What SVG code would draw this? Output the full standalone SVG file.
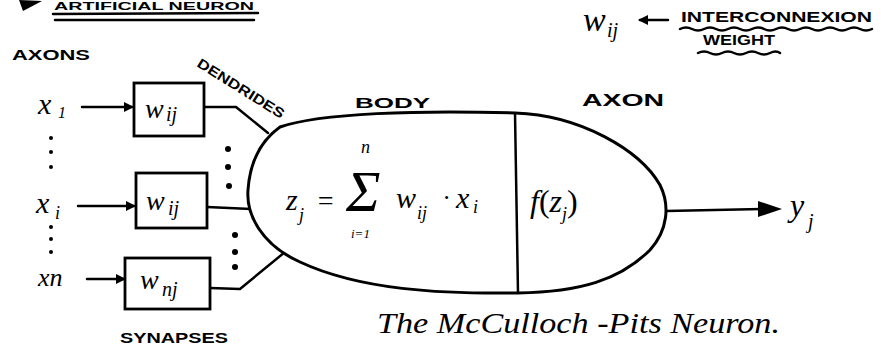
<svg xmlns="http://www.w3.org/2000/svg" width="881" height="349" viewBox="0 0 881 349">
<style>
.lbl{font-family:"Liberation Sans",Arial,sans-serif;font-weight:bold;fill:#000}
.m{font-family:"Liberation Serif","Times New Roman",serif;font-style:italic;fill:#000}
.ln{fill:none;stroke:#000;stroke-width:2.5;stroke-linecap:round;stroke-linejoin:round}
.bx{fill:#fff;stroke:#000;stroke-width:2.8}
.dot{fill:#000}
</style>
<defs>
<marker id="ah" markerWidth="10" markerHeight="10" refX="8" refY="5" orient="auto" markerUnits="userSpaceOnUse">
<path d="M0,0 L10,5 L0,10 Z" fill="#000"/>
</marker>
</defs>
<rect width="881" height="349" fill="#fff"/>

<g id="title">
<polygon points="19,0 42,1 23,11" fill="#000"/>
<text class="lbl" x="54" y="10" font-size="11" textLength="200" lengthAdjust="spacingAndGlyphs">ARTIFICIAL NEURON</text>
<path class="ln" d="M53,14 L258,13" stroke-width="2.5"/>
<path class="ln" d="M55,20 L254,20" stroke-width="2.5"/>
</g>

<g id="legend">
<text class="m" x="583" y="31" font-size="34">w</text>
<text class="m" x="607" y="37" font-size="20">ij</text>
<line class="ln" x1="668" y1="20" x2="640" y2="20" marker-end="url(#ah)"/>
<text class="lbl" x="681" y="22" font-size="15" textLength="191" lengthAdjust="spacingAndGlyphs">INTERCONNEXION</text>
<path class="ln" stroke-width="1.8" d="M680,29 q6,-3 12,0 t12,0 t12,0 t12,0 t12,0 t12,0 t12,0 t12,0 t12,0 t12,0 t12,0 t12,0 t12,0 t12,0 t12,0 t12,0"/>
<text class="lbl" x="703" y="45" font-size="14" textLength="72" lengthAdjust="spacingAndGlyphs">WEIGHT</text>
<path class="ln" stroke-width="1.8" d="M698,53 q6,-3 12,0 t12,0 t12,0 t12,0 t12,0 t12,0 t10,0"/>
</g>

<g id="labels">
<text class="lbl" x="12" y="60" font-size="14" textLength="78" lengthAdjust="spacingAndGlyphs">AXONS</text>
<text class="lbl" x="196" y="66" font-size="14" transform="rotate(32 196 66)" textLength="100" lengthAdjust="spacingAndGlyphs">DENDRIDES</text>
<text class="lbl" x="355" y="108" font-size="15" textLength="75" lengthAdjust="spacingAndGlyphs">BODY</text>
<text class="lbl" x="582" y="106" font-size="16" textLength="82" lengthAdjust="spacingAndGlyphs">AXON</text>
<text class="lbl" x="120" y="343" font-size="14" textLength="108" lengthAdjust="spacingAndGlyphs">SYNAPSES</text>
<text class="m" x="377" y="333" font-size="30" textLength="403" lengthAdjust="spacingAndGlyphs">The McCulloch -Pits Neuron.</text>
</g>

<g id="inputs">
<text class="m" x="38" y="114" font-size="30">x</text>
<text class="m" x="58" y="118" font-size="16" font-style="normal">1</text>
<text class="m" x="36" y="213" font-size="30">x</text>
<text class="m" x="55" y="219" font-size="18">i</text>
<text class="m" x="38" y="286" font-size="26">xn</text>
<circle class="dot" cx="51" cy="138" r="2"/>
<circle class="dot" cx="51" cy="152" r="2"/>
<circle class="dot" cx="51" cy="167" r="2"/>
<circle class="dot" cx="51" cy="227" r="2"/>
<circle class="dot" cx="51" cy="239" r="2"/>
<circle class="dot" cx="51" cy="252" r="2"/>
</g>

<g id="connectors">
<line class="ln" x1="82" y1="107" x2="132" y2="107" marker-end="url(#ah)"/>
<line class="ln" x1="78" y1="206" x2="134" y2="206" marker-end="url(#ah)"/>
<line class="ln" x1="87" y1="279" x2="124" y2="279" marker-end="url(#ah)"/>
<polyline class="ln" points="204,107 236,107 268,133"/>
<line class="ln" x1="207" y1="207" x2="251" y2="209"/>
<polyline class="ln" points="210,288 240,289 285,252"/>
<line class="ln" x1="666" y1="211" x2="762" y2="209"/>
<polygon points="758,201 782,209 758,217" fill="#000"/>
<circle class="dot" cx="228" cy="149" r="3"/>
<circle class="dot" cx="228" cy="167" r="3"/>
<circle class="dot" cx="229" cy="186" r="3"/>
<circle class="dot" cx="235" cy="235" r="3"/>
<circle class="dot" cx="235" cy="252" r="3"/>
<circle class="dot" cx="235" cy="267" r="3"/>
</g>

<g id="synapse1">
<rect class="bx" x="134" y="83" width="70" height="53"/>
<text class="m" x="145" y="118" font-size="28">w</text>
<text class="m" x="166" y="121" font-size="20">ij</text>
</g>
<g id="synapse2">
<rect class="bx" x="136" y="173" width="71" height="55"/>
<text class="m" x="146" y="210" font-size="28">w</text>
<text class="m" x="168" y="215" font-size="20">ij</text>
</g>
<g id="synapse3">
<rect class="bx" x="125" y="258" width="85" height="51"/>
<text class="m" x="140" y="289" font-size="28">w</text>
<text class="m" x="162" y="296" font-size="20">nj</text>
</g>

<g id="neuron">
<path fill="#fff" stroke="#000" stroke-width="3" d="M515,113 C580,115 640,150 660,185 C670,205 668,230 650,250 C620,280 580,292 518,293 C440,294 360,290 300,262 C262,245 246,215 248,190 C250,160 262,140 280,127 C320,113 420,110 515,113 Z"/>
<line x1="515" y1="113" x2="518" y2="293" stroke="#000" stroke-width="2.5"/>
<text class="m" x="286" y="210" font-size="30">z</text>
<text class="m" x="299" y="221" font-size="18">j</text>
<text class="m" x="316" y="210" font-size="28" font-style="normal">=</text>
<text class="m" x="346" y="211" font-size="58" font-style="normal">Σ</text>
<text class="m" x="361" y="153" font-size="18">n</text>
<text class="m" x="351" y="238" font-size="13">i=1</text>
<text class="m" x="396" y="208" font-size="30">w</text>
<text class="m" x="417" y="219" font-size="18">ij</text>
<text class="m" x="443" y="206" font-size="26" font-style="normal">·</text>
<text class="m" x="456" y="208" font-size="30">x</text>
<text class="m" x="473" y="213" font-size="18">i</text>
<text class="m" x="530" y="212" font-size="32">f<tspan font-style="normal">(</tspan>z<tspan font-size="18" dy="8">j</tspan><tspan font-style="normal" dy="-8">)</tspan></text>
</g>

<g id="output">
<text class="m" x="790" y="216" font-size="32">y</text>
<text class="m" x="808" y="228" font-size="20">j</text>
</g>
</svg>
